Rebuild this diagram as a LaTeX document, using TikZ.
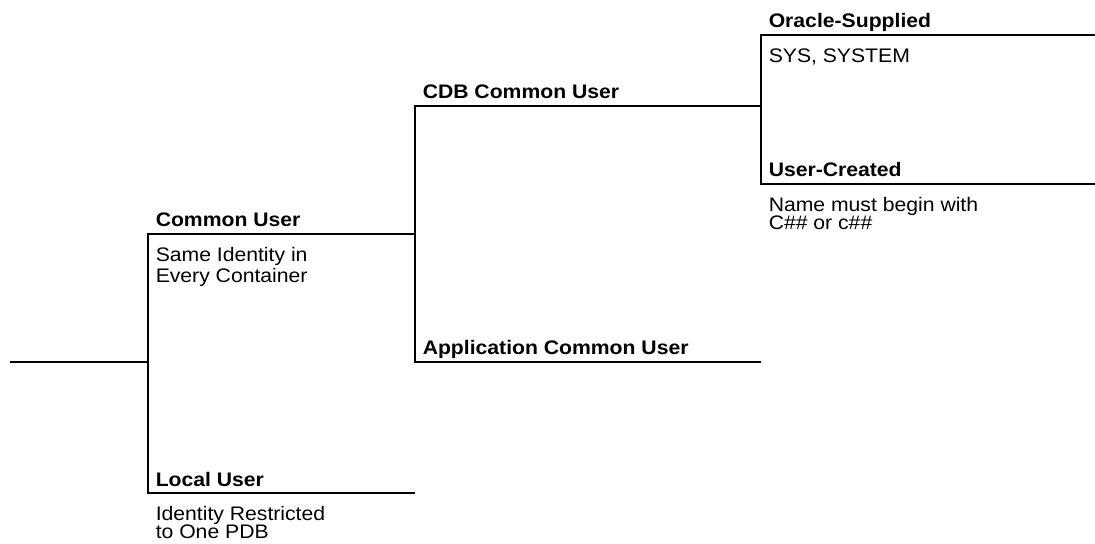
\documentclass[tikz,border=0pt]{standalone}
\usepackage{fontspec}
\setmainfont[FakeStretch=1.08]{Liberation Sans}
\usetikzlibrary{positioning}

\begin{document}
\begin{tikzpicture}[
    x=0.5pt, y=-0.5pt,
    line width=0.75pt,
    head/.style={font=\fontsize{9.8}{9}\selectfont\bfseries, anchor=base west, inner sep=0pt},
    note/.style={font=\fontsize{9.8}{9}\selectfont, anchor=north west, align=left, inner sep=0pt}
]

\useasboundingbox (0,0) rectangle (1095,544);

% tree corners
\coordinate (root) at (10,362);
\coordinate (split1) at (148,362);
\coordinate (cu) at (148,234);
\coordinate (cuend) at (415,234);
\coordinate (lu) at (148,493);
\coordinate (luend) at (415,493);
\coordinate (cdb) at (415,106);
\coordinate (cdbend) at (761,106);
\coordinate (app) at (415,362);
\coordinate (append) at (761,362);
\coordinate (os) at (761,35);
\coordinate (osend) at (1095,35);
\coordinate (uc) at (761,184);
\coordinate (ucend) at (1095,184);

% labels
\node[head] (common) at ([shift={(7,-7)}]cu) {Common User};
\node[note] (commonnote) at ([shift={(7,13)}]cu) {Same Identity in\\Every Container};
\node[head] (local) at ([shift={(7,-7)}]lu) {Local User};
\node[note] (localnote) at ([shift={(7,13)}]lu) {Identity Restricted\\to One PDB};
\node[head] (cdbuser) at ([shift={(7,-7)}]cdb) {CDB Common User};
\node[head] (appuser) at ([shift={(7,-7)}]app) {Application Common User};
\node[head] (oracle) at ([shift={(7,-7)}]os) {Oracle-Supplied};
\node[note] (oraclenote) at ([shift={(7,13)}]os) {SYS, SYSTEM};
\node[head] (usercreated) at ([shift={(7,-7)}]uc) {User-Created};
\node[note] (usernote) at ([shift={(7,13)}]uc) {Name must begin with\\C\#\# or c\#\#};

% branches
\draw (root) -- (split1);
\draw (cuend) -- (cu) -- (lu) -- (luend);
\draw (cdbend) -- (cdb) -- (app) -- (append);
\draw (osend) -- (os) -- (uc) -- (ucend);

\end{tikzpicture}
\end{document}
